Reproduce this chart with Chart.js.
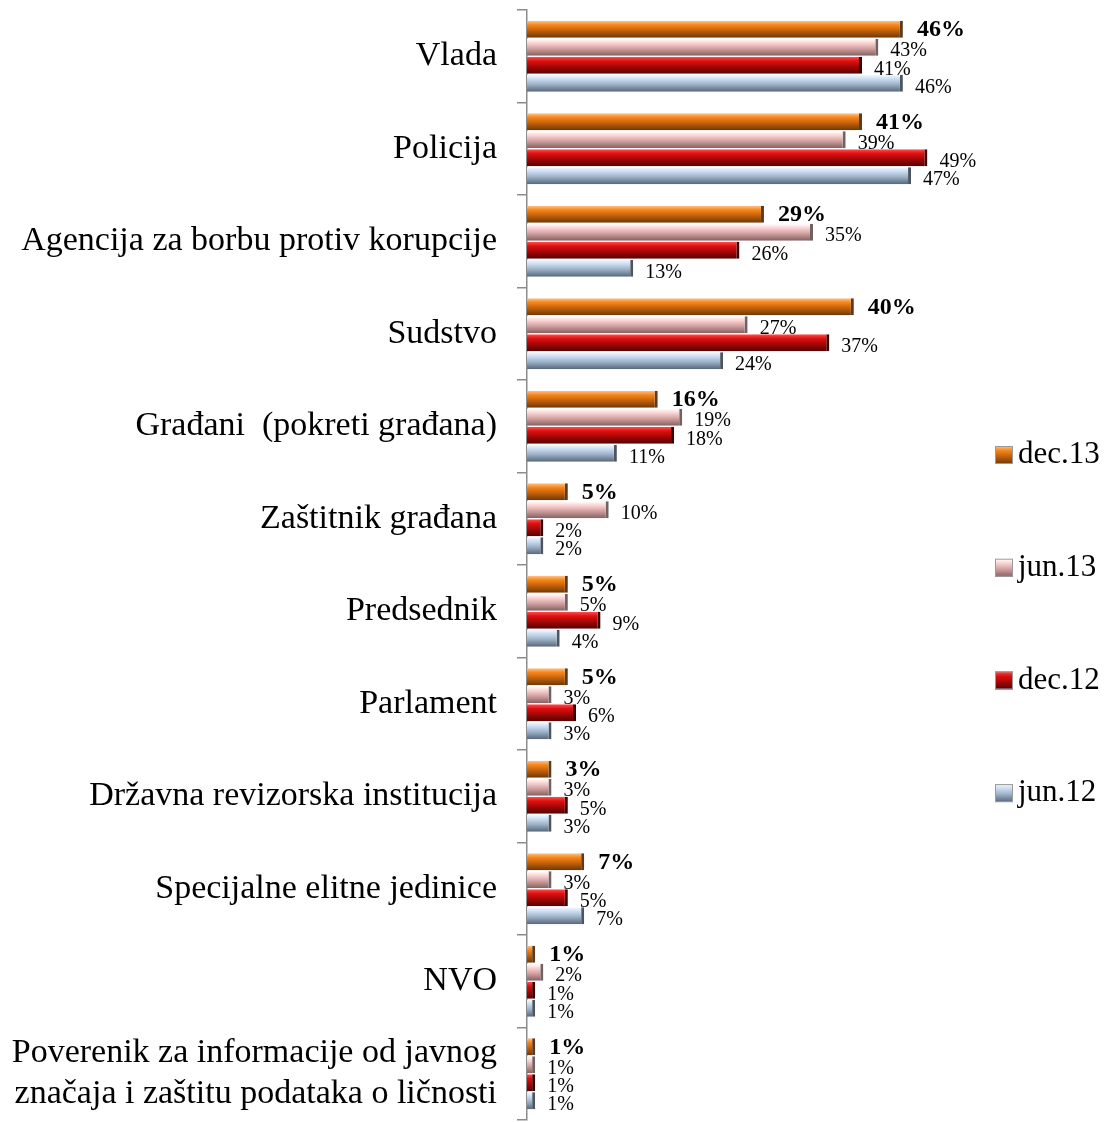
<!DOCTYPE html>
<html>
<head>
<meta charset="utf-8">
<script src="https://cdn.jsdelivr.net/npm/chart.js@4.4.0/dist/chart.umd.min.js"></script>
<style>
    body { margin: 0; background: #fff; }
    #wrap { width: 1107px; height: 1122px; position: relative; }
</style>
</head>
<body>
<div id="wrap"><canvas id="myChart"></canvas></div>
<script>
// data (percent)
const categories = [
    "Vlada",
    "Policija",
    "Agencija za borbu protiv korupcije",
    "Sudstvo",
    "Građani  (pokreti građana)",
    "Zaštitnik građana",
    "Predsednik",
    "Parlament",
    "Državna revizorska institucija",
    "Specijalne elitne jedinice",
    "NVO",
    ["Poverenik za informacije od javnog", "značaja i zaštitu podataka o ličnosti"]
];
const seriesNames = ["dec.13", "jun.13", "dec.12", "jun.12"];
const dec13 = [46, 41, 29, 40, 16, 5, 5, 5, 3, 7, 1, 1];
const jun13 = [43, 39, 35, 27, 19, 10, 5, 3, 3, 3, 2, 1];
const dec12 = [41, 49, 26, 37, 18, 2, 9, 6, 5, 5, 1, 1];
const jun12 = [46, 47, 13, 24, 11, 2, 4, 3, 3, 7, 1, 1];

const fontFamily = '"Liberation Serif", "Times New Roman", serif';

// bevel shades: top highlight, body, lower body, bottom shadow, end cap
const shades = [
    ['#fdc48c', '#f5861a', '#c9640c', '#6e3806', '#5a3a20'],
    ['#ffffff', '#fbd3d3', '#d6a4a4', '#846060', '#6e6262'],
    ['#ff5050', '#e01010', '#aa0808', '#560000', '#3c0000'],
    ['#f4f9ff', '#cadcf0', '#9fb3c9', '#56667a', '#4c5662']
];

function makeGradient(ctx, top, bottom, s) {
    const g = ctx.createLinearGradient(0, top, 0, bottom);
    g.addColorStop(0, s[0]);
    g.addColorStop(0.25, s[1]);
    g.addColorStop(0.55, s[2]);
    g.addColorStop(1, s[3]);
    return g;
}

// give each bar its own vertical gradient
const bevelPlugin = {
    id: 'bevel',
    beforeDatasetsDraw(chart) {
        const ctx = chart.ctx;
        chart.data.datasets.forEach((ds, i) => {
            chart.getDatasetMeta(i).data.forEach(bar => {
                const top = bar.y - bar.height / 2;
                const bottom = bar.y + bar.height / 2;
                bar.options = Object.assign({}, bar.options, {
                    backgroundColor: makeGradient(ctx, top, bottom, shades[i])
                });
            });
        });
    }
};

// value labels next to the bar ends
const valueLabels = {
    id: 'valueLabels',
    afterDatasetsDraw(chart) {
        const ctx = chart.ctx;
        ctx.save();
        ctx.fillStyle = '#000';
        ctx.textAlign = 'left';
        ctx.textBaseline = 'middle';
        for (let i = chart.data.datasets.length - 1; i >= 0; i--) {
            const ds = chart.data.datasets[i];
            chart.getDatasetMeta(i).data.forEach((bar, j) => {
                if (i === 0) {
                    ctx.font = 'bold 24px ' + fontFamily;
                    ctx.fillText(ds.data[j] + '%', bar.x + 14, bar.y + 1);
                } else {
                    ctx.font = '20px ' + fontFamily;
                    ctx.fillText(ds.data[j] + '%', bar.x + 12, bar.y + 4);
                }
            });
        }
        ctx.restore();
    }
};

// legend on the right side
const sideLegend = {
    id: 'sideLegend',
    afterDraw(chart) {
        const ctx = chart.ctx;
        ctx.save();
        ctx.font = '31px ' + fontFamily;
        ctx.textBaseline = 'middle';
        seriesNames.forEach((name, i) => {
            const cy = 455 + i * 112.7;
            ctx.fillStyle = makeGradient(ctx, cy - 9, cy + 9, shades[i]);
            ctx.fillRect(995, cy - 9, 18, 18);
            ctx.strokeStyle = '#9a9a9a';
            ctx.lineWidth = 1;
            ctx.strokeRect(995.5, cy - 8.5, 17, 17);
            ctx.fillStyle = '#000';
            ctx.fillText(name, 1018, cy);
        });
        ctx.restore();
    }
};

const allSeries = [dec13, jun13, dec12, jun12];
const datasets = seriesNames.map((name, i) => ({
    label: name,
    data: allSeries[i],
    backgroundColor: shades[i][1],
    borderColor: shades[i][4],
    borderWidth: { top: 0, bottom: 0, left: 0, right: 3 },
    borderSkipped: 'start',
    categoryPercentage: 0.78,
    barPercentage: 0.94
}));

const ctx = document.getElementById('myChart');
const chart = new Chart(ctx, {
    type: 'bar',
    data: {
        labels: categories,
        datasets: datasets
    },
    options: {
        indexAxis: 'y',
        responsive: true,
        maintainAspectRatio: false,
        animation: false,
        layout: {
            padding: { left: 0, right: 8, top: 10, bottom: 2 }
        },
        scales: {
            x: {
                display: false,
                min: 0,
                max: 70
            },
            y: {
                grid: {
                    offset: true,
                    drawOnChartArea: false,
                    drawTicks: true,
                    tickLength: 10,
                    color: '#8c8c8c',
                    lineWidth: 1.5
                },
                border: {
                    display: true,
                    color: '#8c8c8c',
                    width: 1.5
                },
                ticks: {
                    color: '#000',
                    padding: 20,
                    font: { family: fontFamily, size: 34 }
                },
                afterFit(scale) {
                    scale.width = 527;
                    scale.paddingTop = 0;
                    scale.paddingBottom = 0;
                }
            }
        },
        plugins: {
            legend: { display: false },
            tooltip: { enabled: false }
        }
    },
    plugins: [bevelPlugin, valueLabels, sideLegend]
});
</script>
</body>
</html>
